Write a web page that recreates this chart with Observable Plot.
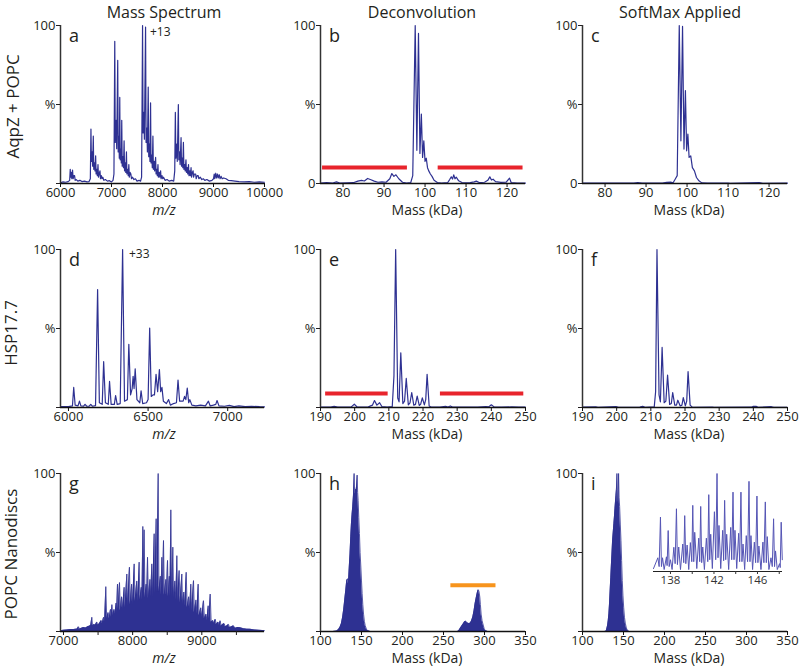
<!DOCTYPE html>
<html><head><meta charset="utf-8">
<script src="https://cdn.jsdelivr.net/npm/d3@7"></script>
<script src="https://cdn.jsdelivr.net/npm/@observablehq/plot@0.6"></script>
<style>
body{margin:0;background:#fff}
#wrap{position:relative;width:800px;height:670px;overflow:hidden;font-family:'Open Sans',sans-serif}
</style>
</head><body><div id="wrap"></div>
<script>
// ---------- DATA (x, relative intensity %) ----------
const aqpzMS = [[6000,0.5],[6050,1],[6100,0.8],[6150,1.2],[6180,2],[6191,9],[6200,4],[6212,7],[6222,3],[6236,8.5],[6248,3],[6262,5],[6276,5],[6288,2],[6310,2.5],[6340,1.5],[6380,2],[6420,1.2],[6470,1.5],[6520,1],[6560,1.2],[6585,3],[6597,34.5],[6606,14],[6620,20],[6630,11],[6643,30],[6652,9],[6666,13],[6676,8],[6689,17.5],[6698,6],[6712,9],[6722,5],[6735,12],[6745,4],[6758,6],[6774,8],[6784,3],[6800,5],[6815,3],[6830,4],[6850,2],[6880,2.5],[6920,1.5],[6960,1.8],[7000,1],[7030,2],[7048,6],[7064,90],[7074,26],[7090,40],[7102,22],[7122,78],[7131,20],[7146,30],[7153,16],[7162,54.5],[7170,15],[7186,22],[7192,13],[7201,40],[7210,11],[7225,17],[7235,10],[7247,27],[7256,8],[7270,13],[7280,7],[7293,20],[7302,6],[7318,9],[7328,5],[7340,12],[7350,4],[7365,7],[7380,6],[7392,3],[7410,4],[7440,2.5],[7470,3],[7500,1.5],[7540,2],[7570,1.5],[7590,4],[7609,100],[7619,32],[7634,45],[7645,28],[7668,99],[7678,26],[7694,35],[7704,20],[7720,61],[7730,17],[7745,25],[7754,14],[7766,51],[7775,13],[7790,18],[7800,10],[7812,30],[7821,9],[7836,14],[7846,8],[7865,16.5],[7874,6],[7888,9],[7898,5],[7911,12],[7920,4],[7935,7],[7948,4],[7963,8],[7972,3],[7990,5],[8005,3],[8020,4],[8050,2],[8090,2.5],[8130,1.5],[8180,2],[8220,1.5],[8240,8],[8252,45],[8262,16],[8278,25],[8290,14],[8311,50],[8320,15],[8335,20],[8345,12],[8364,29],[8373,11],[8388,16],[8398,10],[8410,26],[8420,9],[8435,12],[8445,8],[8460,15],[8470,7],[8485,10],[8495,6],[8510,12],[8520,5],[8535,8],[8545,5],[8560,10],[8570,4],[8585,7],[8600,8],[8610,4],[8625,6],[8650,6],[8660,3],[8680,5],[8700,5],[8712,3],[8740,4],[8770,2.5],[8800,3],[8830,2],[8870,2.5],[8920,1.5],[8970,2],[9000,3],[9014,6],[9025,3],[9045,6.5],[9058,3.5],[9080,6],[9092,3.5],[9115,5.5],[9128,3],[9150,4.5],[9170,3],[9200,3.5],[9245,3],[9290,2],[9350,1.8],[9420,1.5],[9500,1.2],[9600,1],[9700,1.2],[9800,0.8],[9900,1],[10000,0.8]];

const aqpzDeconv = [[74.5,0.3],[76,0.5],[77.5,0.3],[78.4,1],[79.2,0.3],[81,0.4],[82.5,0.5],[83.6,1.5],[84.5,2],[85.2,1.6],[86,3.2],[86.8,2.4],[87.6,1.5],[88.5,0.8],[89.5,1],[90.5,0.8],[91.4,3],[91.9,6.3],[92.4,4.5],[92.9,5.5],[93.6,3],[94.5,0.8],[95.5,0.3],[96.5,0.5],[97.0,5],[97.6,100],[98.0,21],[98.4,95],[98.75,19],[99.1,44],[99.4,16.5],[99.7,27],[100.0,14],[100.3,16],[100.6,10],[100.9,8],[101.3,6],[101.7,4.5],[102.2,2],[103,0.6],[104,0.3],[105.5,0.5],[106,2.5],[106.4,4.2],[106.7,2.8],[107,5.5],[107.3,3],[107.6,4],[108.2,1.7],[109,0.6],[110,0.4],[111,0.6],[112,1],[112.5,1.5],[113.2,0.6],[114.5,0.8],[115.3,2],[115.8,4.2],[116.2,2.2],[116.6,2.7],[117.2,1.2],[118.5,0.7],[119.8,0.8],[120.3,2.5],[120.6,3.4],[121,0.6],[122.5,0.3],[124.5,0.3]];

const aqpzSoftMax = [[74.5,0.2],[80,0.2],[87,0.2],[88,0.6],[89,0.2],[94,0.3],[95,0.7],[96,0.9],[96.6,0.5],[97.1,2.7],[97.6,5],[98.1,100],[98.5,27],[98.9,99.4],[99.25,21.8],[99.6,58.8],[99.9,20.7],[100.2,31.3],[100.5,16.5],[100.9,17.5],[101.3,10],[101.8,8],[102.3,3.8],[102.9,1.7],[103.6,0.4],[105,0.2],[110,0.3],[110.5,0.1],[117.6,0.5],[118.5,0.1],[124.5,0.2]];

const hspMS = [[5950,0.5],[6000,0.6],[6025,1],[6033,12.7],[6042,1.5],[6060,1],[6069,4],[6078,1],[6095,0.8],[6104,2],[6115,0.8],[6130,0.8],[6140,2],[6150,0.8],[6170,1.2],[6183,74.6],[6194,3],[6212,2],[6221,29],[6232,3],[6250,2],[6258,16.5],[6268,2],[6288,2],[6296,7.6],[6306,2],[6325,2.5],[6340,100],[6352,4],[6370,5],[6379,40],[6390,8],[6400,12],[6406,19.7],[6412,12],[6419,24.5],[6430,5],[6448,3],[6456,10.6],[6466,2.5],[6490,3],[6500,5],[6510,50.3],[6520,7],[6531,8],[6540,8],[6550,21],[6560,10],[6571,24],[6579,10],[6587,12.7],[6596,4],[6615,2.5],[6629,5],[6640,1.5],[6660,2.5],[6678,3],[6688,17.3],[6698,4],[6710,4],[6720,4],[6729,7],[6737,5],[6746,12.3],[6755,3],[6762,5],[6775,1.5],[6800,1],[6830,1.5],[6860,1],[6879,4],[6890,1],[6910,1.5],[6925,2],[6933,4.4],[6945,1],[6980,0.8],[7010,1.3],[7040,0.6],[7070,1],[7110,0.6],[7150,0.8],[7200,0.5],[7231,0.4]];

const hspDeconv = [[190,0.2],[193,0.3],[194,0.8],[195,0.2],[199,0.4],[199.9,2.1],[200.7,0.3],[204,0.4],[205.2,1.5],[205.8,4.4],[206.5,1.5],[207.3,3],[208,0.5],[209.5,0.2],[211,0.5],[211.5,20],[212,100],[212.6,6],[213,3.6],[213.5,34.6],[214.1,2.5],[214.6,4],[215.1,18.4],[215.7,1.7],[216.2,3],[216.7,9.5],[217.3,1.5],[217.8,2],[218.3,7.2],[218.9,1.3],[219.3,2],[219.8,6.1],[220.4,1.7],[220.8,5],[221.2,21],[221.8,1],[222.5,0.2],[225,0.2],[226.6,0.8],[227.3,0.3],[228,1],[228.8,0.2],[232,0.3],[236,0.2],[238.4,0.6],[239.2,0.4],[240,1.7],[240.8,0.4],[243,0.2],[246,0.4],[248,0.2],[250,0.2]];

const hspSoftMax = [[190,0.2],[193.9,0.4],[194.5,0.1],[199.8,0.6],[200.5,0.1],[206.8,0.3],[207.6,0.8],[208.3,0.1],[211,0.4],[211.4,10],[211.8,100],[212.4,8],[212.8,3.6],[213.3,38],[213.9,3],[214.4,4],[214.9,20.5],[215.5,2],[216,2.5],[216.4,9.5],[217.0,1.5],[217.5,1.5],[217.9,4.6],[218.6,1],[219.1,1.5],[219.5,6.3],[220.1,1],[220.5,4],[220.9,22.8],[221.5,1.5],[222.2,0.1],[228,0.2],[228.5,0.05],[239.5,0.2],[240,0.8],[240.8,0.7],[241.4,0.1],[245.3,0.5],[246,0.1],[250,0.1]];

const ndMS = [[6957,0.5],[7000,0.8],[7050,1],[7100,1.2],[7150,1.3],[7200,1.6],[7217,3],[7230,1.5],[7260,2],[7290,2.5],[7320,2.2],[7350,3],[7380,3.5],[7395,4],[7410,9],[7420,3.5],[7440,4.5],[7460,4],[7482,6],[7495,4],[7520,5],[7545,7],[7560,5],[7580,9],[7595,6],[7612,28.4],[7625,8],[7645,12],[7660,8],[7680,14],[7690,9],[7700,17],[7712,10],[7730,14],[7745,11],[7760,18],[7770,12],[7781,30],[7792,14],[7810,31],[7822,13],[7840,22],[7855,14],[7877,28],[7890,15],[7916,36.4],[7928,16],[7954,40.7],[7965,17],[7985,30],[8000,17],[8022,42.8],[8035,19],[8060,32],[8075,19],[8094,43.9],[8105,20],[8125,28],[8135,20],[8147,66.5],[8156,24],[8166,64.4],[8178,21],[8195,30],[8205,22],[8215,47],[8228,21],[8250,33],[8262,22],[8277,42.8],[8290,22],[8311,61.9],[8322,24],[8340,71.4],[8352,25],[8369,100],[8380,25],[8400,35],[8410,23],[8422,47],[8433,24],[8446,57.6],[8458,23],[8480,33],[8490,22],[8504,45],[8515,22],[8530,35],[8540,22],[8552,77],[8565,22],[8581,53.4],[8592,21],[8610,32],[8625,20],[8639,48],[8652,19],[8672,38.6],[8685,18],[8711,36.4],[8722,17],[8740,25],[8755,16],[8774,37.5],[8788,15],[8810,22],[8825,14],[8841,30],[8855,13],[8880,32.2],[8892,12],[8915,20],[8930,11],[8947,30],[8960,10],[8985,15],[9000,9],[9024,19.5],[9038,8],[9060,11],[9075,7],[9092,16.3],[9105,8],[9121,23.7],[9135,6],[9160,7],[9175,5],[9193,7.8],[9210,4.5],[9235,6],[9250,4],[9265,6.8],[9280,3.5],[9300,4.5],[9323,5],[9340,3],[9360,3.5],[9386,4.5],[9400,2.5],[9430,3],[9458,3.6],[9480,2],[9520,2.5],[9555,2.4],[9600,1.8],[9650,1.5],[9700,1.4],[9760,1],[9820,0.8],[9880,0.6],[9906,0.5]];

const ndDeconv = [[100,0],[115,0],[119.7,0.3],[122,1.2],[123.8,2.7],[125.5,5],[127,9],[128.3,14],[129.5,19.7],[130.8,26],[132,32.3],[133.2,33.4],[134,30],[135,40],[136,49],[136.9,60],[137.7,68],[138.5,74],[139.3,79],[140.2,86],[141,100],[141.6,88],[142.2,87],[142.8,90],[143.4,89.4],[144,92],[144.7,99],[145.3,88],[145.9,83],[146.7,72],[147.5,62],[148.3,50],[149.2,40.8],[150,32],[150.8,24],[151.6,17],[152.5,11],[153.5,6.5],[154.5,3.8],[156,1.5],[157.4,0.6],[160.7,0],[267.2,0],[269,0.8],[271.3,2.7],[273,4],[274.6,5.3],[275.8,6.2],[277,6.5],[278.2,6],[279.5,5.3],[281,5],[282.5,5.3],[284,6.5],[285.7,9],[287.2,13],[288.5,17.5],[289.8,21],[291,24],[292,26],[292.6,26.4],[293.4,25],[294.3,21.8],[295,17],[295.9,11],[297,7],[298,4.9],[299.5,2],[300.8,0.6],[304,0],[350,0]];

const ndSoftMax = [[100,0],[127,0],[129,0.3],[130.6,3.8],[131.4,7],[132.2,11.2],[133,18],[133.9,28],[134.5,34],[135.1,40.8],[135.9,49],[136.7,57.7],[137.5,63],[138.3,68.3],[139,73],[139.6,77.8],[140.2,82],[140.8,86],[141.4,90],[142,100],[142.6,82],[143.2,82],[143.6,90],[144,100],[144.6,85],[145.3,79],[146.1,68],[146.9,57.7],[147.7,45],[148.5,32.3],[149.3,23],[150.2,15.4],[151.2,9],[152.2,5.3],[153.5,2.2],[155,0.6],[157,0],[350,0]];

const ndSoftMaxInset = [[136.44,3],[136.84,14],[136.96,5],[137.08,55.5],[137.17,5],[137.27,14],[137.42,2],[137.63,15],[137.69,6],[137.79,41.8],[137.88,5],[138.00,12],[138.15,2],[138.31,24.7],[138.43,8],[138.55,64],[138.64,7],[138.76,25],[138.92,2],[139.13,28],[139.22,9],[139.31,57],[139.41,8],[139.53,27],[139.68,2],[139.83,29.5],[139.96,10],[140.05,67.5],[140.14,10],[140.23,40],[140.42,3],[140.60,34],[140.69,10],[140.78,66.4],[140.87,9],[140.97,25],[141.12,2],[141.30,34],[141.43,10],[141.52,78.4],[141.61,12],[141.70,38],[141.85,3],[142.04,61],[142.16,12],[142.28,100],[142.37,14],[142.46,47],[142.62,3],[142.80,42],[142.89,11],[142.98,72.6],[143.08,12],[143.17,38],[143.35,2],[143.54,45],[143.63,12],[143.75,81],[143.84,12],[143.93,42],[144.09,3],[144.27,39],[144.36,10],[144.48,81],[144.57,10],[144.67,28],[144.82,2],[144.97,36.6],[145.09,10],[145.22,92],[145.31,10],[145.40,36.6],[145.55,2],[145.71,30],[145.83,9],[145.95,77],[146.04,9],[146.13,26],[146.32,2],[146.50,30],[146.59,9],[146.72,71],[146.81,9],[146.90,35.6],[147.05,2],[147.24,14],[147.36,5],[147.48,53.8],[147.57,5],[147.66,21],[147.82,2],[148.03,8],[148.09,4],[148.18,50.3],[148.28,12]];

// filter windows (kDa, y in %)
const filterBarsB = [{x1:75.0, x2:95.7, y:10.1},{x1:103.2, x2:123.9, y:10.1}];
const filterBarsE = [{x1:191.5, x2:209.8, y:8.9},{x1:225.1, x2:249.5, y:8.9}];
const filterBarH = [{x1:259, x2:314, y:29.2}];

// ticks
const ticksA = [6000,7000,8000,9000,10000];
const ticksD = [6000,6500,7000];
const ticksG = [7000,8000,9000];
const minorG = [7500,8500,9500];
const ticksB = [80,90,100,110,120];
const ticksE = [190,200,210,220,230,240,250];
const ticksH = [100,150,200,250,300,350];
const ticksInset = [138,142,146];
const minorInset = [140,144,148];
const yTicks = [0,50,100];

// ---------- LAYOUT ----------
const BLUE = "#2e3192";
const wrap = document.getElementById("wrap");
const cols = [{x0:60,x1:264},{x0:320,x1:525},{x0:582,x1:787}];
const rows = [{y0:25,y1:183},{y0:249,y1:407},{y0:473,y1:631}];
const FONT = "'Open Sans', sans-serif";

function place(svg, left, top){
  svg.style.position = "absolute";
  svg.style.left = left + "px";
  svg.style.top = top + "px";
  wrap.appendChild(svg);
}

function panel(cfg){
  const c = cols[cfg.col], r = rows[cfg.row];
  const ml = 45, mr = 12, mt = 12, mb = 30;
  const width = c.x1 - c.x0 + ml + mr, height = r.y1 - r.y0 + mt + mb;
  const acc = {x: d => d[0], y: d => d[1]};
  const marks = [];
  if (cfg.area) marks.push(Plot.areaY(cfg.data, {...acc, fill: BLUE}));
  marks.push(Plot.line(cfg.data, {...acc, stroke: BLUE, strokeWidth: cfg.area ? 0.8 : 1.2}));
  if (cfg.bars) marks.push(Plot.ruleY(cfg.bars, {x1:"x1", x2:"x2", y:"y", stroke: cfg.barColor, strokeWidth: 4}));
  marks.push(Plot.ruleY([0], {stroke:"#111", strokeWidth:1.3}));
  marks.push(Plot.ruleX([cfg.domain[0]], {stroke:"#333", strokeWidth:1.5}));
  marks.push(Plot.axisX({ticks: cfg.ticks, tickSize:4, tickPadding:0, label:null, tickFormat: d => String(d), stroke:"#111"}));
  if (cfg.minor) marks.push(Plot.axisX({ticks: cfg.minor, tickSize:4, label:null, tickFormat: () => ""}));
  marks.push(Plot.axisY({ticks: yTicks, tickSize:4, tickPadding:1, label:null,
    tickFormat: d => d === 100 ? "100" : d === 50 ? "%" : (cfg.zero ? "0" : "")}));
  const svg = Plot.plot({
    width, height, marginLeft: ml, marginRight: mr, marginTop: mt, marginBottom: mb,
    x: {domain: cfg.domain}, y: {domain: [0, 100]},
    style: {fontFamily: FONT, fontSize: "13px", color: "#231f20", background: "transparent", overflow: "visible"},
    marks
  });
  place(svg, c.x0 - ml, r.y0 - mt);
}

panel({row:0, col:0, data: aqpzMS, domain:[6000,10000], ticks: ticksA});
panel({row:0, col:1, data: aqpzDeconv, domain:[74.5,124.5], ticks: ticksB, zero:true, bars: filterBarsB, barColor:"#e8242c"});
panel({row:0, col:2, data: aqpzSoftMax, domain:[74.5,124.5], ticks: ticksB, zero:true});
panel({row:1, col:0, data: hspMS, domain:[5950,7231], ticks: ticksD});
panel({row:1, col:1, data: hspDeconv, domain:[190,250], ticks: ticksE, bars: filterBarsE, barColor:"#e8242c"});
panel({row:1, col:2, data: hspSoftMax, domain:[190,250], ticks: ticksE});
panel({row:2, col:0, data: ndMS, domain:[6957,9906], ticks: ticksG, minor: minorG, area:true});
panel({row:2, col:1, data: ndDeconv, domain:[100,350], ticks: ticksH, area:true, bars: filterBarH, barColor:"#f7941d"});
panel({row:2, col:2, data: ndSoftMax, domain:[100,350], ticks: ticksH, area:true});

// inset for panel i
const inset = Plot.plot({
  width:150, height:125, marginLeft:13, marginRight:8, marginTop:7, marginBottom:20,
  x:{domain:[136.44,148.3]}, y:{domain:[0,100], axis:null},
  style:{fontFamily: FONT, fontSize:"11.5px", color:"#333", background:"transparent", overflow:"visible"},
  marks:[
    Plot.line(ndSoftMaxInset, {x: d => d[0], y: d => d[1], stroke:"#5555b5", strokeWidth:1}),
    Plot.ruleY([0], {stroke:"#222", strokeWidth:1.2}),
    Plot.axisX({ticks: ticksInset, tickSize:3, tickPadding:1, label:null, tickFormat: d => String(d)}),
    Plot.axisX({ticks: minorInset, tickSize:3, label:null, tickFormat: () => ""})
  ]
});
place(inset, 640, 466);

// ---------- TEXT ----------
const texts = [
  {t:"Mass Spectrum", x:164, y:17.5, s:16, a:"middle"},
  {t:"Deconvolution", x:422, y:17.5, s:16, a:"middle"},
  {t:"SoftMax Applied", x:680, y:17.5, s:16, a:"middle"},
  {t:"AqpZ + POPC", x:19, y:106.5, s:17, a:"middle", r:true},
  {t:"HSP17.7", x:17, y:333, s:17, a:"middle", r:true},
  {t:"POPC Nanodiscs", x:17, y:554, s:17, a:"middle", r:true},
  {t:"a", x:69, y:42, s:18}, {t:"b", x:329, y:42, s:18}, {t:"c", x:591, y:42, s:18},
  {t:"d", x:69, y:266, s:18}, {t:"e", x:329, y:266, s:18}, {t:"f", x:591, y:266, s:18},
  {t:"g", x:69, y:490, s:18}, {t:"h", x:329, y:490, s:18}, {t:"i", x:591, y:490, s:18},
  {t:"+13", x:150, y:36, s:12}, {t:"+33", x:129, y:258, s:12},
  {t:"m/z", x:164, y:215, s:14, a:"middle", it:true},
  {t:"m/z", x:164, y:439, s:14, a:"middle", it:true},
  {t:"m/z", x:164, y:663, s:14, a:"middle", it:true},
  {t:"Mass (kDa)", x:427, y:215, s:14, a:"middle"}, {t:"Mass (kDa)", x:689, y:215, s:14, a:"middle"},
  {t:"Mass (kDa)", x:427, y:439, s:14, a:"middle"}, {t:"Mass (kDa)", x:689, y:439, s:14, a:"middle"},
  {t:"Mass (kDa)", x:427, y:663, s:14, a:"middle"}, {t:"Mass (kDa)", x:689, y:663, s:14, a:"middle"}
];
const ov = d3.select(wrap).append("svg").attr("width",800).attr("height",670)
  .style("position","absolute").style("left","0px").style("top","0px").style("pointer-events","none");
ov.selectAll("text").data(texts).join("text")
  .attr("transform", d => d.r ? `translate(${d.x},${d.y}) rotate(-90)` : `translate(${d.x},${d.y})`)
  .attr("text-anchor", d => d.a || "start")
  .attr("font-family", FONT)
  .attr("font-size", d => d.s)
  .attr("font-style", d => d.it ? "italic" : "normal")
  .attr("fill", "#231f20")
  .text(d => d.t);
</script></body></html>
